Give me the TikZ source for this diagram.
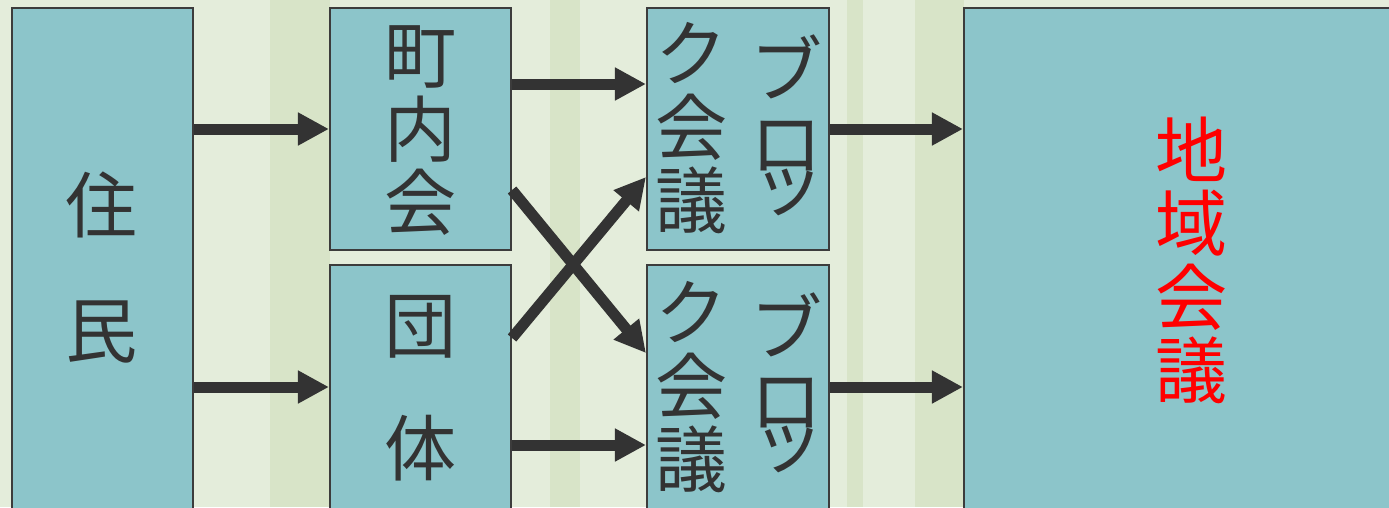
\documentclass[tikz,border=0pt]{standalone}
\usepackage{fontspec}
\usetikzlibrary{arrows.meta}
\newfontfamily\jp{Noto Sans CJK JP}
\definecolor{bgbase}{RGB}{228,237,219}
\definecolor{bgband}{RGB}{216,228,200}
\definecolor{boxfill}{RGB}{140,197,202}
\definecolor{boxline}{RGB}{60,60,60}
\definecolor{ink}{RGB}{51,51,51}
\tikzset{
  box/.style={draw=boxline, line width=0.6pt, fill=boxfill, rectangle, inner sep=0pt},
  lbl/.style={inner sep=0pt, align=center, text=ink, font=\jp\fontsize{20.5pt}{20.9pt}\selectfont},
  arr/.style={draw=ink, line width=0.11cm, -{Triangle[length=0.31cm,width=0.31cm]}}
}
\begin{document}
\begin{tikzpicture}[x=1cm,y=1cm]
\useasboundingbox (0,0) rectangle (13.89,5.07);
\clip (0,0) rectangle (13.89,5.07);
% background
\fill[bgbase] (0,0) rectangle (13.89,5.07);
\fill[bgband] (2.70,0) rectangle (3.30,5.07);
\fill[bgband] (8.47,0) rectangle (8.63,5.07);
\fill[bgband] (9.15,0) rectangle (9.64,5.07);
\fill[bgband] (5.50,0) rectangle (5.80,5.07);
% boxes
\node[box, minimum width=1.81cm, minimum height=5.12cm] (jumin) at (1.025,2.43) {};
\node[box, minimum width=1.81cm, minimum height=2.42cm] (chonai) at (4.205,3.78) {};
\node[box, minimum width=1.81cm, minimum height=2.55cm] (dantai) at (4.205,1.145) {};
\node[box, minimum width=1.82cm, minimum height=2.42cm] (blockA) at (7.38,3.78) {};
\node[box, minimum width=1.82cm, minimum height=2.55cm] (blockB) at (7.38,1.145) {};
\node[box, minimum width=4.56cm, minimum height=5.12cm] (chiiki) at (11.92,2.43) {};
% labels
\node[lbl, font=\jp\fontsize{20.5pt}{35.6pt}\selectfont] (tjumin) at (1.02,2.395) {住\\民};
\node[lbl] (tchonai) at (4.21,3.76) {町\\内\\会};
\node[lbl, font=\jp\fontsize{20.5pt}{35pt}\selectfont] (tdantai) at (4.21,1.19) {団\\体};
\node[lbl] (tAl) at (6.92,3.785) {ク\\会\\議};
\node[lbl] (tAr) at (7.87,4.04) {ブ\\ロ};
\node[lbl] (tAt) at (7.89,3.15) {ッ};
\node[lbl] (tBl) at (6.92,1.195) {ク\\会\\議};
\node[lbl] (tBr) at (7.87,1.465) {ブ\\ロ};
\node[lbl] (tBt) at (7.89,0.575) {ッ};
\node[lbl, text=red] (tchiiki) at (11.92,2.465) {地\\域\\会\\議};
% arrow heights
\coordinate (y1) at (0,3.78);
\coordinate (y2) at (0,1.20);
\coordinate (y3) at (0,4.23);
\coordinate (y4) at (0,0.62);
\coordinate (d1) at (0,3.17);
\coordinate (d2) at (0,1.54);
\coordinate (d3) at (0,1.69);
\coordinate (d4) at (0,3.30);
% connectors
\draw[arr] (jumin.east |- y1) -- (chonai.west |- y1);
\draw[arr] (jumin.east |- y2) -- (dantai.west |- y2);
\draw[arr] (chonai.east |- y3) -- (blockA.west |- y3);
\draw[arr] (dantai.east |- y4) -- (blockB.west |- y4);
\draw[arr] (chonai.east |- d1) -- (blockB.west |- d2);
\draw[arr] (dantai.east |- d3) -- (blockA.west |- d4);
\draw[arr] (blockA.east |- y1) -- (chiiki.west |- y1);
\draw[arr] (blockB.east |- y2) -- (chiiki.west |- y2);
\end{tikzpicture}
\end{document}
